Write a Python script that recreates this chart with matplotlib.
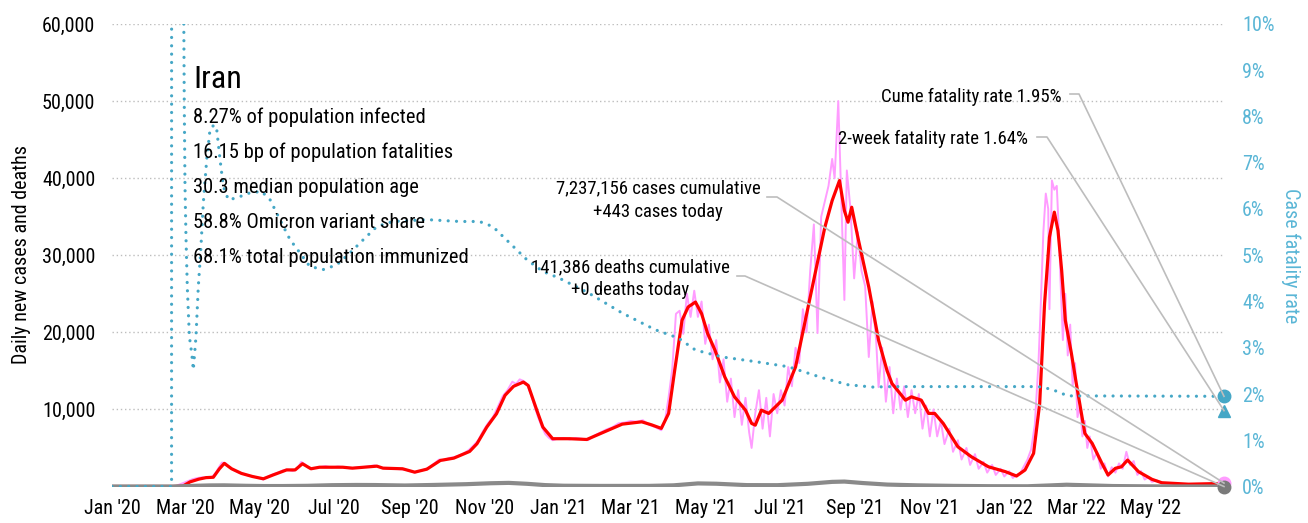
import numpy as np
import matplotlib
matplotlib.use("Agg")
import matplotlib.pyplot as plt
import matplotlib.dates as mdates
from matplotlib import font_manager
from matplotlib.lines import Line2D
from matplotlib.ticker import FixedLocator, FuncFormatter

# ---------------- data ----------------
# all day values are days after 1 Jan 2020
START = "2020-01-01"
END_DAY = 911  # 30 Jun 2022

# 7-day average of daily new cases
avg_day = [0, 50, 58, 64, 71, 77, 83, 88, 92, 98, 106, 115, 124, 132, 143, 150, 156,
           163, 170, 189, 197, 217, 222, 238, 248, 258, 269, 280, 293, 299, 307, 315,
           322, 329, 337, 341, 348, 353, 361, 375, 389, 405, 418, 434, 442, 450, 456,
           461, 467, 472, 478, 483, 488, 494, 502, 510, 519, 524, 527, 532, 538, 549,
           560, 568, 576, 584, 590, 596, 600, 603, 606, 611, 620, 628, 635, 639, 650,
           655, 663, 669, 674, 681, 693, 704, 718, 732, 741, 748, 755, 760, 764, 768,
           772, 775, 778, 781, 786, 790, 797, 803, 811, 816, 822, 827, 832, 841, 852,
           860, 882, 911]
avg_cases = [0, 0, 50, 600, 950, 1150, 1200, 2300, 3000, 2300, 1700, 1300, 1000, 1500,
             2150, 2150, 2950, 2300, 2500, 2500, 2380, 2640, 2380, 2300, 1860, 2250,
             3380, 3680, 4550, 5550, 7700, 9440, 11830, 13000, 13550, 13100, 9900, 7700,
             6200, 6200, 6100, 7200, 8090, 8390, 8000, 7540, 9480, 15090, 21560, 23290,
             23930, 22430, 19840, 17680, 14220, 11630, 9900, 8180, 7960, 9900, 9480,
             11200, 15510, 21560, 27610, 33640, 37100, 39690, 35800, 34290, 36230, 32350,
             25870, 18970, 15000, 13360, 11200, 11630, 11200, 9480, 9480, 8180, 5150,
             3860, 2560, 1920, 1360, 2140, 4300, 10770, 23720, 32350, 35590, 33200,
             28040, 21560, 17250, 13360, 6890, 5600, 3000, 1490, 2360, 2560, 3430, 1920,
             930, 490, 300, 400]

# reported daily new cases
raw_day = [0, 48, 52, 56, 60, 63, 66, 70, 74, 78, 82, 85, 88, 90, 93, 96, 100, 104, 108,
           112, 116, 120, 124, 128, 132, 136, 140, 144, 148, 152, 155, 158, 161, 165,
           170, 175, 180, 185, 190, 195, 200, 205, 210, 215, 220, 225, 230, 235, 240,
           245, 248, 252, 256, 260, 264, 268, 272, 276, 280, 284, 288, 292, 296, 300,
           304, 308, 312, 316, 320, 324, 328, 331, 334, 337, 340, 343, 346, 349, 352,
           355, 358, 361, 365, 370, 375, 380, 385, 390, 395, 400, 405, 410, 415, 420,
           425, 430, 435, 440, 445, 450, 453, 456, 459, 462, 465, 468, 471, 474, 477,
           480, 483, 486, 489, 492, 495, 498, 501, 504, 507, 510, 513, 516, 519, 522,
           524, 527, 530, 533, 536, 539, 542, 545, 548, 551, 554, 557, 560, 563, 566,
           569, 572, 575, 578, 581, 584, 587, 590, 592, 595, 597, 600, 602, 605, 608,
           611, 614, 617, 620, 623, 626, 628, 631, 634, 637, 640, 643, 646, 649, 652,
           655, 658, 661, 664, 667, 670, 673, 676, 679, 682, 686, 689, 693, 696, 700,
           703, 707, 710, 714, 717, 721, 724, 728, 731, 735, 738, 741, 744, 747, 750,
           753, 756, 759, 761, 763, 765, 767, 768, 770, 772, 774, 776, 777, 779, 781,
           783, 785, 787, 789, 791, 793, 795, 797, 799, 801, 804, 807, 810, 813, 816,
           819, 822, 825, 828, 831, 834, 837, 840, 843, 846, 849, 852, 856, 860, 870,
           880, 890, 900, 911]
raw_cases = [0, 0, 50, 300, 550, 750, 950, 1100, 1200, 1100, 1250, 1800, 2600, 3100,
             3050, 2500, 2100, 1800, 1600, 1400, 1300, 1100, 900, 1300, 1600, 1800, 2100,
             2200, 2000, 2350, 3200, 2900, 2400, 2350, 2500, 2650, 2450, 2600, 2500, 2350,
             2450, 2500, 2600, 2750, 2450, 2300, 2350, 2250, 2200, 1950, 1800, 2000, 2200,
             2500, 3000, 3500, 3400, 3700, 3800, 4000, 4300, 4700, 5300, 6000, 7200, 8200,
             9000, 10300, 11700, 12500, 13600, 13300, 13900, 13700, 13300, 12000, 10500,
             9000, 7800, 6800, 6300, 6000, 6200, 6300, 6100, 6300, 6200, 6000, 6600, 7000,
             7400, 7700, 8200, 8300, 8500, 8400, 8600, 8000, 7700, 7300, 8500, 11600,
             15300, 22400, 22800, 19800, 25000, 22000, 25400, 22000, 24000, 18500, 21000,
             16500, 19000, 13500, 16500, 11000, 14000, 9000, 12500, 8000, 11500, 7000,
             5000, 9500, 12500, 7500, 11500, 6500, 12000, 9500, 12500, 10500, 15500,
             13000, 18000, 16000, 23000, 20000, 28000, 34000, 19900, 35000, 37000, 39000,
             42500, 40000, 50000, 39500, 24200, 41000, 36000, 27000, 33000, 28000, 26000,
             16800, 24000, 19000, 12900, 18000, 11000, 15500, 9500, 14000, 10000, 13000,
             9000, 12500, 9500, 12000, 7500, 10500, 6500, 10000, 6500, 8500, 5500, 7500,
             4500, 6000, 3500, 5000, 2800, 4200, 2300, 3200, 1800, 2800, 1500, 2300, 1300,
             2000, 1100, 1500, 1700, 2600, 3500, 4800, 8000, 16000, 24000, 33000, 38000,
             36000, 23000, 39700, 38500, 39000, 32000, 27000, 19000, 25000, 17000, 21000,
             13000, 16000, 9000, 10500, 6500, 8500, 5000, 6500, 3500, 4500, 2300, 3000,
             1300, 2500, 1800, 3000, 2300, 4500, 2800, 3300, 1500, 2000, 900, 1200, 600,
             800, 400, 350, 300, 250, 200, 443]

# 7-day average of daily deaths
death_day = [0, 50, 60, 70, 80, 92, 110, 125, 140, 160, 180, 200, 215, 240, 260, 290,
             310, 325, 340, 355, 370, 400, 440, 460, 480, 495, 520, 545, 570, 590, 600,
             615, 635, 660, 690, 720, 750, 770, 782, 800, 820, 850, 880, 911]
death_avg = [0, 0, 50, 100, 140, 150, 90, 60, 60, 90, 170, 200, 190, 130, 190, 300,
             420, 470, 350, 180, 100, 75, 80, 150, 400, 360, 180, 170, 350, 600, 640,
             450, 250, 150, 80, 40, 30, 150, 230, 150, 60, 20, 5, 0]

# cumulative case fatality rate, percent
cfr_day = [0, 48.8, 49, 57, 58.6, 59.2, 59.8, 60.6, 61.7, 63.4, 65.3, 66.6, 68.8, 70.7,
           72.6, 74.8, 77.6, 80.3, 83.6, 85.8, 88.5, 91.2, 95.3, 102, 113, 122.6, 129.5,
           137.6, 145.8, 154, 162, 173, 184, 195, 206, 217, 230, 258, 285, 301, 312,
           326, 340, 353, 366, 390, 418, 445, 464, 478, 500, 527, 554, 582, 603, 623,
           639, 759, 770, 783, 911]
cfr_pct = [0, 0, 60, 25, 11, 8.3, 6.5, 5.4, 4.3, 3.24, 2.88, 2.52, 3.24, 4.32, 5.05,
           6.13, 7.07, 7.72, 7.82, 7.72, 7.07, 6.49, 6.2, 6.24, 6.35, 6.38, 6.2, 5.77,
           5.34, 5.05, 4.76, 4.69, 4.79, 5.05, 5.34, 5.62, 5.73, 5.77, 5.73, 5.73, 5.62,
           5.26, 4.9, 4.65, 4.51, 4.19, 3.75, 3.39, 3.21, 2.95, 2.80, 2.70, 2.59, 2.35,
           2.20, 2.15, 2.16, 2.16, 2.10, 1.96, 1.95]

month_ticks = ["2020-01-01", "2020-03-01", "2020-05-01", "2020-07-01", "2020-09-01",
               "2020-11-01", "2021-01-01", "2021-03-01", "2021-05-01", "2021-07-01",
               "2021-09-01", "2021-11-01", "2022-01-01", "2022-03-01", "2022-05-01"]
month_labels = ["Jan '20", "Mar '20", "May '20", "Jul '20", "Sep '20", "Nov '20",
                "Jan '21", "Mar '21", "May '21", "Jul '21", "Sep '21", "Nov '21",
                "Jan '22", "Mar '22", "May '22"]
case_ticks = [10000, 20000, 30000, 40000, 50000, 60000]
cfr_ticks = [0, 1, 2, 3, 4, 5, 6, 7, 8, 9, 10]

country = "Iran"
facts = ["8.27% of population infected",
         "16.15 bp of population fatalities",
         "30.3 median population age",
         "58.8% Omicron variant share",
         "68.1% total population immunized"]
cume_cfr = 1.95
recent_cfr = 1.64
total_cases = 7237156
cases_today = 443
total_deaths = 141386
deaths_today = 0

# ---------------- styling ----------------
RED = "#FF0000"
PINK = "#FF9CFF"
GREY = "#8A8A8A"
TEAL = "#45A7C6"
TEAL_TXT = "#5AB6D6"
LEADER = "#BDBDBD"
GRID = "#BDBDBD"

names = {f.name for f in font_manager.fontManager.ttflist}
FONT = "DejaVu Sans"
STRETCH = "condensed"
for cand in ["Roboto Condensed", "Liberation Sans Narrow", "Arial Narrow"]:
    if cand in names:
        FONT = cand
        STRETCH = "normal"
        break
else:
    for f in font_manager.fontManager.ttflist:
        if f.name == "Noto Sans" and str(f.stretch) in ("condensed", "semi-condensed", "extra-condensed"):
            FONT = "Noto Sans"
            break
plt.rcParams["font.family"] = [FONT, "DejaVu Sans"]
plt.rcParams["font.stretch"] = STRETCH

W, H = 1308, 523
TICK_FS = 14.5
NOTE_FS = 13.5
FACT_FS = 14.8


def px(x, y):
    return x / W, 1 - y / H


base = mdates.date2num(np.datetime64(START))
to_x = lambda days: base + np.asarray(days, dtype=float)

fig = plt.figure(figsize=(W / 100, H / 100), dpi=100)
left, right, top, bottom = 112, 1224, 24, 486.5
ax = fig.add_axes([left / W, 1 - bottom / H, (right - left) / W, (bottom - top) / H])
ax2 = ax.twinx()

ax.plot(to_x(raw_day), raw_cases, color=PINK, lw=1.4, zorder=2, solid_joinstyle="round")
ax.plot(to_x(avg_day), avg_cases, color=RED, lw=2.3, zorder=3, solid_joinstyle="round")
ax.plot(to_x(death_day), death_avg, color=GREY, lw=3.0, zorder=4, solid_capstyle="round")

ax.set_xlim(base, base + END_DAY)
ax.set_ylim(0, 60000)
ax2.set_ylim(0, 10)

ax2.plot(to_x(cfr_day), cfr_pct, color=TEAL, lw=2.3, linestyle=(0, (0.01, 2.6)),
         dash_capstyle="round", zorder=3)

# end-of-series markers
xe = base + END_DAY
ax.plot([xe], [cases_today], "o", color=PINK, ms=9, zorder=6, clip_on=False)
ax.plot([xe], [deaths_today], "o", color="#7A7A7A", ms=9, zorder=7, clip_on=False)
ax2.plot([xe], [cume_cfr], "o", color=TEAL, ms=9, zorder=6, clip_on=False)
ax2.plot([xe], [recent_cfr], "^", color=TEAL, ms=9, zorder=6, clip_on=False)

# axes cosmetics
for a in (ax, ax2):
    for s in a.spines.values():
        s.set_visible(False)
ax.yaxis.set_major_locator(FixedLocator(case_ticks))
ax.yaxis.set_major_formatter(FuncFormatter(lambda v, p: f"{int(v):,}"))
ax.grid(axis="y", color=GRID, linestyle=(0, (1, 2)), lw=1.0)
ax.set_axisbelow(True)
ax.xaxis.set_major_locator(FixedLocator([mdates.date2num(np.datetime64(d)) for d in month_ticks]))
ax.set_xticklabels(month_labels)
ax.tick_params(axis="x", length=0, pad=9, labelsize=TICK_FS, colors="black")
ax.tick_params(axis="y", length=0, pad=12, labelsize=TICK_FS, colors="black")
ax2.yaxis.set_major_locator(FixedLocator(cfr_ticks))
ax2.yaxis.set_major_formatter(FuncFormatter(lambda v, p: f"{int(v)}%"))
ax2.tick_params(axis="y", length=0, pad=13, labelsize=TICK_FS, colors=TEAL_TXT)
ax.set_zorder(1)
ax2.set_zorder(2)
ax.patch.set_visible(False)

fig.text(*px(22, 255), "Daily new cases and deaths", rotation=90, ha="center",
         va="center", fontsize=TICK_FS, color="black")
fig.text(*px(1291, 256), "Case fatality rate", rotation=270, ha="center",
         va="center", fontsize=TICK_FS, color=TEAL_TXT)

# country block
fig.text(*px(193, 88), country, fontsize=23, ha="left", va="baseline", color="black")
for i, line in enumerate(facts):
    fig.text(*px(193, 123 + 35 * i), line, fontsize=FACT_FS, ha="left", va="baseline",
             color="black")

# callouts
fig.text(*px(1062, 102), f"Cume fatality rate {cume_cfr:.2f}%", fontsize=NOTE_FS,
         ha="right", va="baseline")
fig.text(*px(1028, 144), f"2-week fatality rate {recent_cfr:.2f}%", fontsize=NOTE_FS,
         ha="right", va="baseline")
fig.text(*px(658, 193), f"{total_cases:,} cases cumulative", fontsize=NOTE_FS,
         ha="center", va="baseline")
fig.text(*px(658, 217), f"+{cases_today:,} cases today", fontsize=NOTE_FS,
         ha="center", va="baseline")
fig.text(*px(630, 272), f"{total_deaths:,} deaths cumulative", fontsize=NOTE_FS,
         ha="center", va="baseline")
fig.text(*px(630, 295), f"+{deaths_today:,} deaths today", fontsize=NOTE_FS,
         ha="center", va="baseline")

inv = fig.transFigure.inverted()


def leader(x0, x1, y, axis, value):
    end = inv.transform(axis.transData.transform((xe, value)))
    a = px(x0, y)
    b = px(x1, y)
    fig.add_artist(Line2D([a[0], b[0], end[0]], [a[1], b[1], end[1]],
                          transform=fig.transFigure, color=LEADER, lw=1.2, zorder=5))


leader(1070, 1079, 94, ax2, cume_cfr)
leader(1037, 1047, 137, ax2, recent_cfr)
leader(767, 777, 197, ax, cases_today)
leader(737, 745, 276, ax, deaths_today)

fig.savefig("out.png", dpi=100)
